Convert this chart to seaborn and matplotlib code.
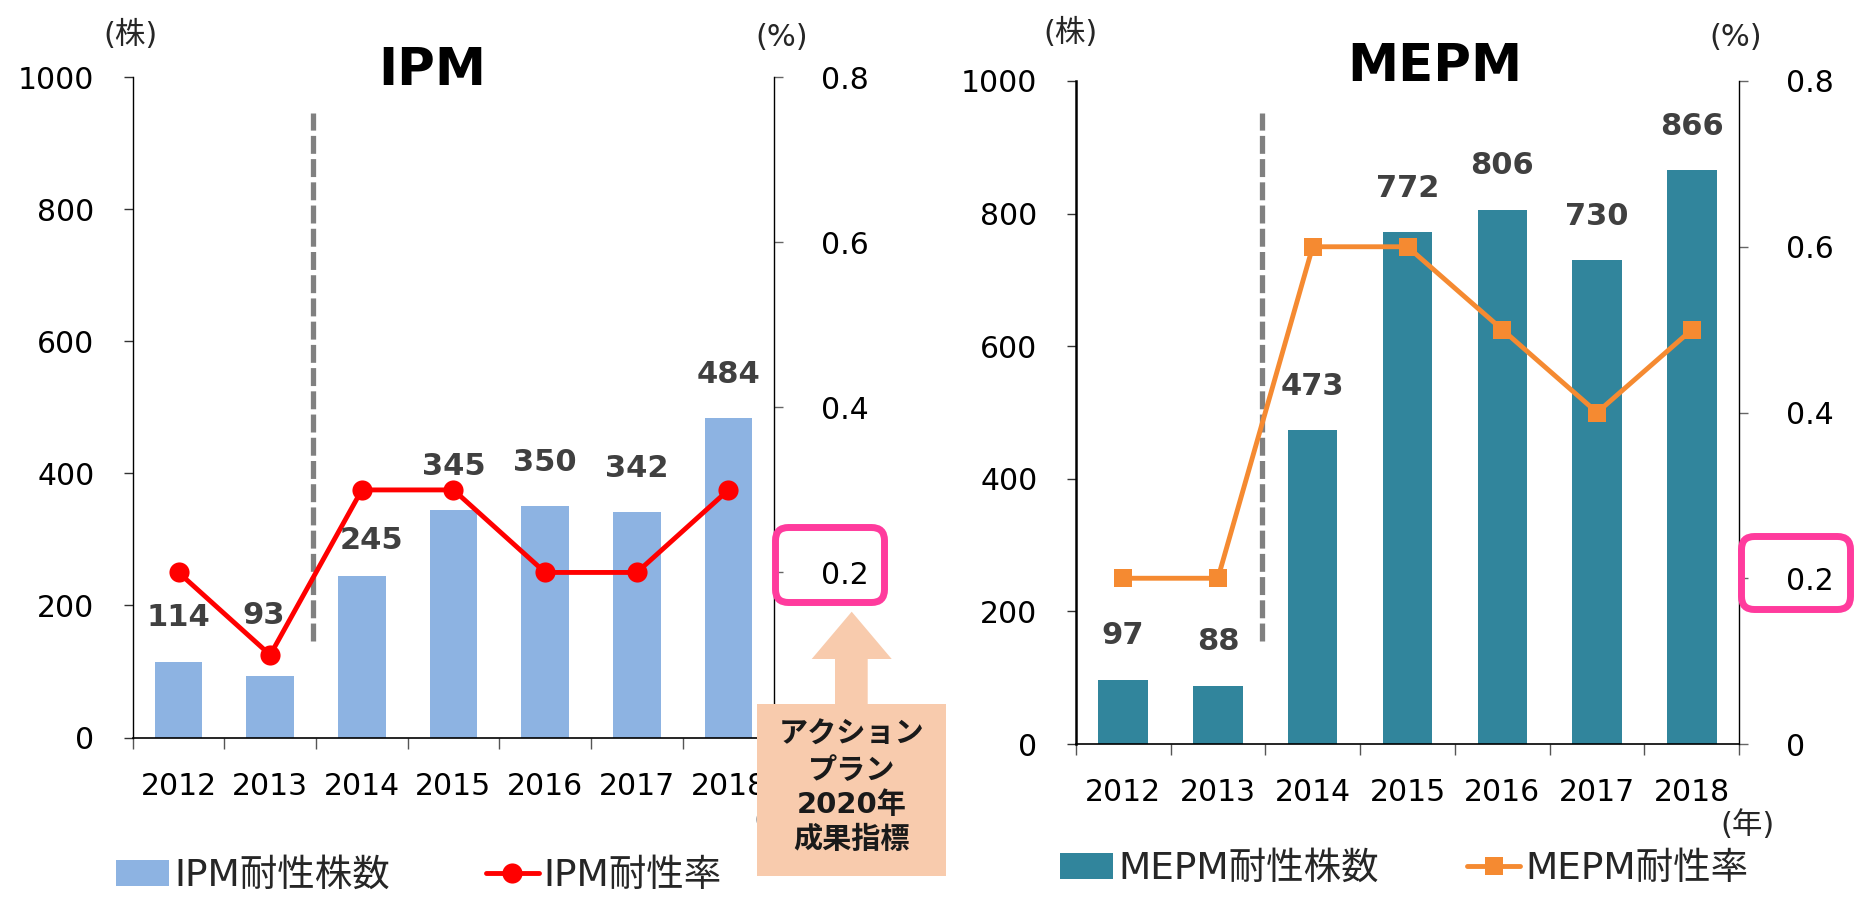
import numpy as np
import pandas as pd
import matplotlib
matplotlib.use("Agg")
import matplotlib.pyplot as plt
import seaborn as sns
from matplotlib.patches import FancyBboxPatch, Polygon, Patch, Rectangle
from matplotlib.lines import Line2D

# ---- data -------------------------------------------------------------
years = ["2012", "2013", "2014", "2015", "2016", "2017", "2018"]
ipm_counts = [114, 93, 245, 345, 350, 342, 484]
ipm_rates = [0.2, 0.1, 0.3, 0.3, 0.2, 0.2, 0.3]
mepm_counts = [97, 88, 473, 772, 806, 730, 866]
mepm_rates = [0.2, 0.2, 0.6, 0.6, 0.5, 0.4, 0.5]

count_ticks = [0, 200, 400, 600, 800, 1000]
rate_ticks = [0, 0.2, 0.4, 0.6, 0.8]
# the zero label of the IPM rate axis sits under the callout box
ipm_rate_tick_labels = ["", "0.2", "0.4", "0.6", "0.8"]
mepm_rate_tick_labels = ["0", "0.2", "0.4", "0.6", "0.8"]

titles = ["IPM", "MEPM"]
ipm_legend = ["IPM耐性株数", "IPM耐性率"]
mepm_legend = ["MEPM耐性株数", "MEPM耐性率"]
unit_count = "(株)"
unit_rate = "(%)"
unit_year = "(年)"
callout_lines = ["アクション", "プラン", "2020年", "成果指標"]
target_rate = 0.2

# value-label placement (offset above bar in count units, x shift in categories)
ipm_label_lift = [68, 92, 54, 66, 66, 66, 66]
ipm_label_dx = [0, -0.075, 0.11, 0, 0, 0, 0]
mepm_label_lift = [67, 67, 66, 66, 66, 66, 66]
mepm_label_dx = [0, 0, 0, 0, 0, 0, 0]

# ---- style --------------------------------------------------------------
sns.set_theme(style="ticks")
FAMILY = ["DejaVu Sans", "Noto Sans CJK JP"]
plt.rcParams["font.family"] = FAMILY
plt.rcParams["axes.unicode_minus"] = False

W, H = 1865, 898
fig = plt.figure(figsize=(W / 100, H / 100), dpi=100)
fig.patch.set_facecolor("white")


def px_axes(x0, y0, x1, y1):
    return fig.add_axes([x0 / W, 1 - y1 / H, (x1 - x0) / W, (y1 - y0) / H])


def draw_panel(box, counts, rates, rate_labels, bar_color, line_color, marker,
               msize, lift, dx, dash_span, left_spine_lw):
    ax = px_axes(*box)
    df = pd.DataFrame({"year": years, "count": counts, "rate": rates})
    sns.barplot(data=df, x="year", y="count", ax=ax, color=bar_color,
                saturation=1, width=0.52, linewidth=0, errorbar=None)
    ax.set_ylim(0, 1000)
    ax.set_xlim(-0.5, 6.5)
    ax.set_yticks(count_ticks)
    ax.set_xlabel("")
    ax.set_ylabel("")

    # separator between the two periods
    ax.plot([1.47, 1.47], dash_span, color="#808080", lw=3.8,
            dashes=(3.4, 1.0), solid_capstyle="butt", dash_capstyle="butt",
            zorder=3)

    ax2 = ax.twinx()
    sns.pointplot(data=df, x="year", y="rate", ax=ax2, color=line_color,
                  markers=marker, markersize=msize, linewidth=3.5,
                  markeredgewidth=0, errorbar=None)
    ax2.set_ylim(0, 0.8)
    ax2.set_yticks(rate_ticks, rate_labels)
    ax2.set_ylabel("")
    ax2.set_xlabel("")
    ax.set_xlim(-0.5, 6.5)

    # bar value labels on top of everything
    for i, v in enumerate(counts):
        ax2.text(i + dx[i], v + lift[i], str(v), transform=ax.transData,
                 ha="center", va="center", fontsize=22, fontweight="bold",
                 color="#404040", zorder=6)

    # spines
    for a in (ax, ax2):
        a.spines["top"].set_visible(False)
    ax.spines["right"].set_visible(False)
    ax2.spines["left"].set_visible(False)
    ax2.spines["bottom"].set_visible(False)
    ax.spines["left"].set_linewidth(left_spine_lw)
    ax.spines["left"].set_color("black")
    ax.spines["bottom"].set_linewidth(1.2)
    ax.spines["bottom"].set_color("black")
    ax2.spines["right"].set_linewidth(1.0)
    ax2.spines["right"].set_color("black")

    # ticks
    ax.tick_params(axis="y", left=True, direction="out", length=6.5,
                   width=1, pad=21, labelsize=21.5, color="#333333",
                   labelcolor="black")
    ax2.tick_params(axis="y", right=True, direction="out", length=6.5,
                    width=1, pad=27, labelsize=21.5, color="#666666",
                    labelcolor="black")
    ax.tick_params(axis="x", which="major", length=0, pad=24.5,
                   labelsize=21.5, labelcolor="black")
    ax.set_xticks(np.arange(-0.5, 7.0, 1.0), minor=True)
    ax.tick_params(axis="x", which="minor", bottom=True, direction="out",
                   length=8, width=1, color="#555555")
    ax2.tick_params(axis="x", which="both", bottom=False, labelbottom=False)
    return ax, ax2


ipm_color = "#8DB3E2"
ipm_line = "#FF0000"
mepm_color = "#31859C"
mepm_line = "#F58A31"

draw_panel((132.7, 77.3, 774.3, 737.5), ipm_counts, ipm_rates,
           ipm_rate_tick_labels, ipm_color, ipm_line, "o", 14.5,
           ipm_label_lift, ipm_label_dx, (146, 946), 1.0)
draw_panel((1075.7, 81, 1739.3, 744), mepm_counts, mepm_rates,
           mepm_rate_tick_labels, mepm_color, mepm_line, "s", 13.5,
           mepm_label_lift, mepm_label_dx, (155, 952), 1.8)

# ---- legends ------------------------------------------------------------
for (xa, ya, bar_c, line_c, mk, ms, labels, colsp) in [
        (116, 876, ipm_color, ipm_line, "o", 14.5, ipm_legend, 2.55),
        (1060, 869, mepm_color, mepm_line, "s", 13.5, mepm_legend, 2.35)]:
    handles = [Patch(facecolor=bar_c, edgecolor="none"),
               Line2D([], [], color=line_c, lw=3.5, marker=mk,
                      markersize=ms, markeredgewidth=0)]
    fig.legend(handles, labels, ncol=2, loc="center left",
               bbox_to_anchor=(xa / W, 1 - ya / H), frameon=False,
               fontsize=27, handlelength=1.42, handleheight=0.67,
               handletextpad=0.13, columnspacing=colsp, borderpad=0,
               borderaxespad=0)

# ---- annotations in pixel space -----------------------------------------
ov = fig.add_axes([0, 0, 1, 1])
ov.set_xlim(0, W)
ov.set_ylim(H, 0)
ov.axis("off")
ov.set_zorder(10)
ov.patch.set_alpha(0)

ov.text(432.5, 85, titles[0], ha="center", va="baseline", fontsize=37,
        fontweight="bold", color="black")
ov.text(1435, 81, titles[1], ha="center", va="baseline", fontsize=37,
        fontweight="bold", color="black")

for x, y in [(130, 35), (1070, 33)]:
    ov.text(x, y, unit_count, ha="center", va="center", fontsize=22)
for x, y in [(782, 37), (1736, 37)]:
    ov.text(x, y, unit_rate, ha="center", va="center", fontsize=22)
for x, y in [(753, 820), (1720, 825)]:
    ov.text(x, y, unit_year, ha="left", va="center", fontsize=22)

# highlight boxes around the target rate tick label
for (x0, y0, x1, y1) in [(775.5, 527.5, 884.5, 602.5),
                         (1741.5, 536.5, 1850.5, 609.5)]:
    ov.add_patch(FancyBboxPatch((x0, y0), x1 - x0, y1 - y0,
                                boxstyle="round,pad=0,rounding_size=13",
                                facecolor="none", edgecolor="#FF3B9D",
                                lw=5, zorder=5))

# callout arrow and box
peach = "#F8CBAD"
ov.add_patch(Polygon([(851.7, 611.7), (891.7, 659), (867.7, 659),
                      (867.7, 706), (835, 706), (835, 659), (811.7, 659)],
                     closed=True, facecolor=peach, edgecolor="none", zorder=4))
ov.add_patch(Rectangle((756.7, 704), 189.3, 172, facecolor=peach,
                       edgecolor="none", zorder=4))
for txt, y in zip(callout_lines, [735, 771, 805.5, 840]):
    ov.text(851.5, y, txt, ha="center", va="center", fontsize=21,
            fontweight="bold", color="#1A1A1A", zorder=6)

fig.savefig("out.png", dpi=100)
